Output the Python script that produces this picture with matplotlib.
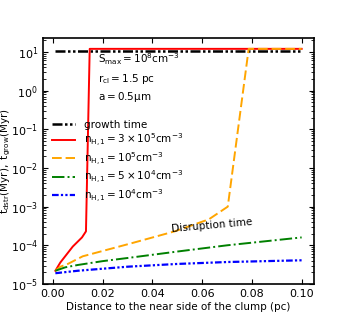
import numpy as np
import matplotlib
matplotlib.use('Agg')
matplotlib.rcParams['xtick.direction'] = 'in'
matplotlib.rcParams['ytick.direction'] = 'in'
matplotlib.rcParams['xtick.top'] = True
matplotlib.rcParams['ytick.right'] = True
import matplotlib.pyplot as plt

# growth time (flat)
x_grow = [0.001, 0.1]
t_grow = [10.5, 10.5]

# disruption time curves, n_H,1 = 3e5
x_n3e5 = [0.001, 0.003, 0.008, 0.0117, 0.0133, 0.0148, 0.1]
t_n3e5 = [2.2e-5, 3.6e-5, 9.3e-5, 1.6e-4, 2.3e-4, 12.0, 12.0]

# n_H,1 = 1e5
x_n1e5 = [0.001, 0.003, 0.006, 0.012, 0.032, 0.049, 0.0627, 0.0703, 0.0787, 0.1]
t_n1e5 = [2.2e-5, 2.8e-5, 3.3e-5, 5.2e-5, 1.15e-4, 2.3e-4, 4.7e-4, 1.0e-3, 12.0, 12.0]

# n_H,1 = 5e4
x_n5e4 = [0.001, 0.005, 0.01, 0.02, 0.03, 0.05, 0.07, 0.1]
t_n5e4 = [2.2e-5, 2.7e-5, 3.1e-5, 3.9e-5, 4.7e-5, 6.9e-5, 1.0e-4, 1.6e-4]

# n_H,1 = 1e4
x_n1e4 = [0.001, 0.01, 0.03, 0.05, 0.07, 0.1]
t_n1e4 = [1.9e-5, 2.2e-5, 2.8e-5, 3.3e-5, 3.7e-5, 4.1e-5]

fig = plt.figure(figsize=(3.49, 3.2), dpi=100)
ax = fig.add_axes([0.123, 0.1125, 0.777, 0.769])

ax.plot(x_grow, t_grow, color='black', lw=1.8, ls=(0, (4, 1, 1, 1, 1, 1)), label='growth time')
ax.plot(x_n3e5, t_n3e5, color='red', lw=1.4, ls='-', label=r'$\rm n_{H,1} = 3\times10^5cm^{-3}$')
ax.plot(x_n1e5, t_n1e5, color='orange', lw=1.4, ls=(0, (5, 2)), label=r'$\rm n_{H,1} = 10^5cm^{-3}$')
ax.plot(x_n5e4, t_n5e4, color='green', lw=1.4, ls='-.', label=r'$\rm n_{H,1} = 5\times10^4cm^{-3}$')
ax.plot(x_n1e4, t_n1e4, color='blue', lw=1.6, ls=(0, (3, 1, 1, 1, 1, 1)), label=r'$\rm n_{H,1} = 10^4cm^{-3}$')

ax.set_yscale('log')
ax.set_xlim(-0.004, 0.105)
ax.set_ylim(1e-5, 23)
ax.set_xticks([0.0, 0.02, 0.04, 0.06, 0.08, 0.10])
ax.set_yticks([1e-5, 1e-4, 1e-3, 1e-2, 1e-1, 1e0, 1e1])
ax.tick_params(labelsize=8)
for s in ax.spines.values():
    s.set_linewidth(1.2)

ax.set_xlabel('Distance to the near side of the clump (pc)', fontsize=7.5, labelpad=2)
ax.set_ylabel(r'$\rm t_{dstr}(Myr),\ t_{grow}(Myr)$', fontsize=7.5)
ax.yaxis.set_label_coords(-0.11, 0.5)

ax.text(0.018, 5.0, r'$\rm S_{max} = 10^8cm^{-3}$', fontsize=7.5)
ax.text(0.018, 1.7, r'$\rm r_{cl} = 1.5\ pc$', fontsize=7.5)
ax.text(0.018, 0.58, r'$\rm a = 0.5\mu m$', fontsize=7.5)
ax.text(0.064, 3.3e-4, 'Disruption time', fontsize=7.5, rotation=5, ha='center', va='center')

ax.legend(loc='upper left', bbox_to_anchor=(0.0, 0.705), frameon=False, fontsize=7.5,
          handlelength=2.2, labelspacing=0.15)

plt.savefig('out.png', dpi=100)
